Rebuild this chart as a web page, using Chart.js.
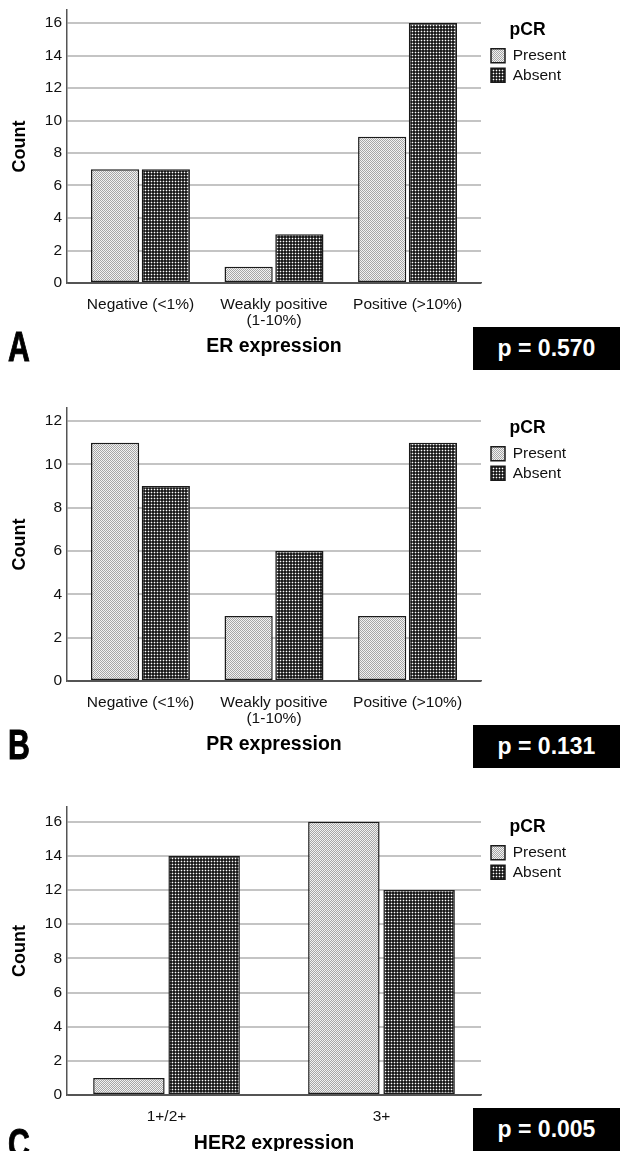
<!DOCTYPE html>
<html lang="en">
<head>
<meta charset="utf-8">
<title>pCR by ER, PR and HER2 expression</title>
<script src="https://cdn.jsdelivr.net/npm/chart.js@4.4.1/dist/chart.umd.min.js"></script>
<style>
  html, body { margin: 0; padding: 0; background: #fff; }
  body { position: relative; width: 620px; height: 1151px; overflow: hidden; font-family: "Liberation Sans", Arial, sans-serif; }
  canvas { position: absolute; left: 0; }
  .letter { position: absolute; left: 8px; font-size: 42px; font-weight: bold; line-height: 1; color: #000;
            -webkit-text-stroke: 1px #000; transform: scaleX(0.72); transform-origin: left top; }
  .pbox { position: absolute; left: 473px; width: 147px; height: 43px; background: #000; color: #fff;
          font-size: 23px; font-weight: bold; display: flex; align-items: center; justify-content: center; }
</style>
</head>
<body>
<canvas id="chartER" width="620" height="385" style="top:0"></canvas>
<canvas id="chartPR" width="620" height="385" style="top:398px"></canvas>
<canvas id="chartHER2" width="620" height="385" style="top:797px"></canvas>

<div class="letter" style="top:326px">A</div>
<div class="letter" style="top:724px">B</div>
<div class="letter" style="top:1123px">C</div>

<div class="pbox" id="pER" style="top:327px"></div>
<div class="pbox" id="pPR" style="top:725px"></div>
<div class="pbox" id="pHER2" style="top:1108px"></div>

<script>
/* ========= DATA ========= */

const seriesNames = ['Present', 'Absent'];

const erLabels = ['Negative (<1%)', ['Weakly positive', '(1-10%)'], 'Positive (>10%)'];
const erPresent = [7, 1, 9];
const erAbsent = [7, 3, 16];

const prLabels = ['Negative (<1%)', ['Weakly positive', '(1-10%)'], 'Positive (>10%)'];
const prPresent = [11, 3, 3];
const prAbsent = [9, 6, 11];

const her2Labels = ['1+/2+', '3+'];
const her2Present = [1, 16];
const her2Absent = [14, 12];

const pValues = ['p = 0.570', 'p = 0.131', 'p = 0.005'];

/* ========= GENERAL SETUP ========= */

Chart.defaults.font.family = "'Liberation Sans', Arial, sans-serif";
Chart.defaults.color = '#111';
Chart.defaults.animation = false;

const AXIS_LEFT = 67;   // y axis line
const PLOT_RIGHT = 481; // where the grid lines stop
const LABEL_SIZE = 15.5;

// SPSS-like fill patterns
function makePattern(size, draw) {
  const c = document.createElement('canvas');
  c.width = c.height = size;
  const g = c.getContext('2d');
  draw(g);
  return g.createPattern(c, 'repeat');
}

const lightDots = makePattern(2, g => {
  g.fillStyle = '#f2f2f2'; g.fillRect(0, 0, 2, 2);
  g.fillStyle = '#a6a6a6'; g.fillRect(0, 0, 1, 1); g.fillRect(1, 1, 1, 1);
});

const darkDots = makePattern(3, g => {
  g.fillStyle = '#1a1a1a'; g.fillRect(0, 0, 3, 3);
  g.fillStyle = '#555555';
  g.fillRect(1, 0, 1, 1); g.fillRect(0, 1, 1, 1); g.fillRect(2, 1, 1, 1); g.fillRect(1, 2, 1, 1);
  g.fillStyle = '#ffffff'; g.fillRect(1, 1, 1, 1);
});

// legend width -> right padding so the plot ends at PLOT_RIGHT
const measure = document.createElement('canvas').getContext('2d');
measure.font = LABEL_SIZE + "px 'Liberation Sans', Arial, sans-serif";
const legendTextW = Math.max(...seriesNames.map(s => measure.measureText(s).width));
const legendW = 4 + 14 + LABEL_SIZE / 2 + legendTextW + 10;
const padRight = 620 - PLOT_RIGHT - legendW;

// small nudge of the legend block, label padding is also the row gap
const legendNudge = {
  id: 'legendNudge',
  afterLayout(chart) {
    chart.legend.left += 6;
    chart.legend.width -= 8;
  }
};

/* ========= CHARTS ========= */

function makeChart(id, labels, present, absent, opts) {
  const toPoints = arr => arr.map((v, i) => ({ x: i, y: v }));
  return new Chart(document.getElementById(id), {
    type: 'bar',
    data: {
      datasets: [
        { label: seriesNames[0], data: toPoints(present), backgroundColor: lightDots },
        { label: seriesNames[1], data: toPoints(absent), backgroundColor: darkDots }
      ]
    },
    options: {
      responsive: false,
      layout: { padding: { top: 10, right: padRight, bottom: 0, left: 0 } },
      datasets: {
        bar: {
          borderColor: '#1a1a1a',
          borderWidth: 1.5,
          borderSkipped: false,
          categoryPercentage: opts.groupPct,
          barPercentage: 0.95
        }
      },
      plugins: {
        tooltip: { enabled: false },
        legend: {
          position: 'right',
          align: 'start',
          labels: { boxWidth: 14, boxHeight: 14, padding: 4, color: '#111', font: { size: LABEL_SIZE } },
          title: {
            display: true, text: 'pCR', color: '#000',
            font: { size: 17.5, weight: 'bold' }, padding: { top: 11, bottom: 2 }
          }
        }
      },
      scales: {
        x: {
          type: 'linear',
          min: opts.xMin,
          max: opts.xMax,
          offset: false,
          grid: { display: false, offset: false },
          border: { color: '#555', width: 1.5 },
          ticks: {
            stepSize: 1,
            includeBounds: false,
            autoSkip: false,
            maxRotation: 0,
            padding: 6,
            color: '#111',
            font: { size: LABEL_SIZE, lineHeight: 1.02 },
            callback: v => labels[v] ?? ''
          },
          title: {
            display: true, text: opts.title, color: '#000',
            font: { size: 19.5, weight: 'bold' }, padding: { top: 0, bottom: 26.3 }
          },
          afterFit: s => { s.height = opts.xAxisH; s.paddingLeft = 0; s.paddingRight = 0; }
        },
        y: {
          min: 0,
          max: opts.yMax,
          ticks: { stepSize: 2, includeBounds: false, padding: 5, color: '#111', font: { size: LABEL_SIZE } },
          grid: {
            drawTicks: false,
            lineWidth: 2,
            color: c => (c.tick && c.tick.value === 0 ? '#555' : '#c4c4c4')
          },
          border: { color: '#555', width: 1.5 },
          title: {
            display: true, text: 'Count', color: '#000',
            font: { size: 18, weight: 'bold' }, padding: { top: 9.5, bottom: 0 }
          },
          afterFit: s => { s.width = AXIS_LEFT; s.paddingTop = 0; s.paddingBottom = 0; }
        }
      }
    },
    plugins: [legendNudge]
  });
}

makeChart('chartER', erLabels, erPresent, erAbsent,
  { title: 'ER expression', yMax: 16.8, xMin: -0.55, xMax: 2.55, groupPct: 0.76, xAxisH: 102 });

makeChart('chartPR', prLabels, prPresent, prAbsent,
  { title: 'PR expression', yMax: 12.6, xMin: -0.55, xMax: 2.55, groupPct: 0.76, xAxisH: 102 });

makeChart('chartHER2', her2Labels, her2Present, her2Absent,
  { title: 'HER2 expression', yMax: 16.86, xMin: -0.463, xMax: 1.463, groupPct: 0.70, xAxisH: 87 });

['pER', 'pPR', 'pHER2'].forEach((id, i) => {
  document.getElementById(id).textContent = pValues[i];
});
</script>
</body>
</html>
